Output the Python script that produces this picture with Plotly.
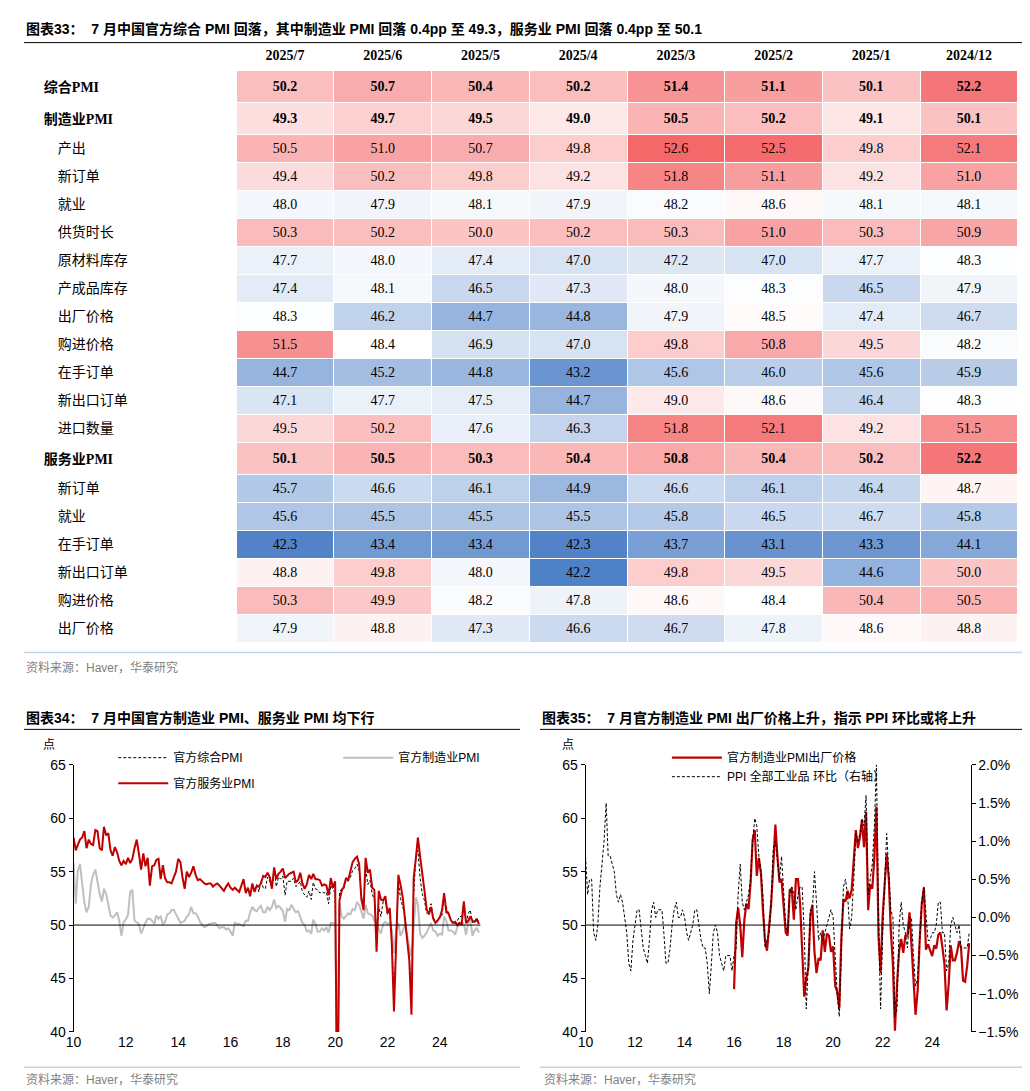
import pandas as pd
import plotly.graph_objects as go

W, H = 1030, 1091

# ---------- table data ----------
months = ['2025/7', '2025/6', '2025/5', '2025/4', '2025/3', '2025/2', '2025/1', '2024/12']
row_labels = ['综合PMI', '制造业PMI', '产出', '新订单', '就业', '供货时长', '原材料库存', '产成品库存',
              '出厂价格', '购进价格', '在手订单', '新出口订单', '进口数量', '服务业PMI',
              '新订单', '就业', '在手订单', '新出口订单', '购进价格', '出厂价格']
bold_rows = [0, 1, 13]
table_vals = [
    [50.2, 50.7, 50.4, 50.2, 51.4, 51.1, 50.1, 52.2],
    [49.3, 49.7, 49.5, 49.0, 50.5, 50.2, 49.1, 50.1],
    [50.5, 51.0, 50.7, 49.8, 52.6, 52.5, 49.8, 52.1],
    [49.4, 50.2, 49.8, 49.2, 51.8, 51.1, 49.2, 51.0],
    [48.0, 47.9, 48.1, 47.9, 48.2, 48.6, 48.1, 48.1],
    [50.3, 50.2, 50.0, 50.2, 50.3, 51.0, 50.3, 50.9],
    [47.7, 48.0, 47.4, 47.0, 47.2, 47.0, 47.7, 48.3],
    [47.4, 48.1, 46.5, 47.3, 48.0, 48.3, 46.5, 47.9],
    [48.3, 46.2, 44.7, 44.8, 47.9, 48.5, 47.4, 46.7],
    [51.5, 48.4, 46.9, 47.0, 49.8, 50.8, 49.5, 48.2],
    [44.7, 45.2, 44.8, 43.2, 45.6, 46.0, 45.6, 45.9],
    [47.1, 47.7, 47.5, 44.7, 49.0, 48.6, 46.4, 48.3],
    [49.5, 50.2, 47.6, 46.3, 51.8, 52.1, 49.2, 51.5],
    [50.1, 50.5, 50.3, 50.4, 50.8, 50.4, 50.2, 52.2],
    [45.7, 46.6, 46.1, 44.9, 46.6, 46.1, 46.4, 48.7],
    [45.6, 45.5, 45.5, 45.5, 45.8, 46.5, 46.7, 45.8],
    [42.3, 43.4, 43.4, 42.3, 43.7, 43.1, 43.3, 44.1],
    [48.8, 49.8, 48.0, 42.2, 49.8, 49.5, 44.6, 50.0],
    [50.3, 49.9, 48.2, 47.8, 48.6, 48.4, 50.4, 50.5],
    [47.9, 48.8, 47.3, 46.6, 46.7, 47.8, 48.6, 48.8],
]

# ---------- monthly series (2010/01 - 2025/07) ----------
mfg_pmi = [
    55.8, 52.0, 55.1, 55.7, 53.9, 52.1, 51.2, 51.7, 53.8, 54.7, 55.2, 53.9,
    52.9, 52.2, 53.4, 52.9, 52.0, 50.9, 50.7, 50.9, 51.2, 50.4, 49.0, 50.3,
    50.5, 51.0, 53.1, 53.3, 50.4, 50.2, 50.1, 49.2, 49.8, 50.2, 50.6, 50.6,
    50.4, 50.1, 50.9, 50.6, 50.8, 50.1, 50.3, 51.0, 51.1, 51.4, 51.4, 51.0,
    50.5, 50.2, 50.3, 50.4, 50.8, 51.0, 51.7, 51.1, 51.1, 50.8, 50.3, 50.1,
    49.8, 49.9, 50.1, 50.1, 50.2, 50.2, 50.0, 49.7, 49.8, 49.8, 49.6, 49.7,
    49.4, 49.0, 50.2, 50.1, 50.1, 50.0, 49.9, 50.4, 50.4, 51.2, 51.7, 51.4,
    51.3, 51.6, 51.8, 51.2, 51.2, 51.7, 51.4, 51.7, 52.4, 51.6, 51.8, 51.6,
    51.3, 50.3, 51.5, 51.4, 51.9, 51.5, 51.2, 51.3, 50.8, 50.2, 50.0, 49.4,
    49.5, 49.2, 50.5, 50.1, 49.4, 49.4, 49.7, 49.5, 49.8, 49.3, 50.2, 50.2,
    50.0, 35.7, 52.0, 50.8, 50.6, 50.9, 51.1, 51.0, 51.5, 51.4, 52.1, 51.9,
    51.3, 50.6, 51.9, 51.1, 51.0, 50.9, 50.4, 50.1, 49.6, 49.2, 50.1, 50.3,
    50.1, 50.2, 49.5, 47.4, 49.6, 50.2, 49.0, 49.4, 50.1, 49.2, 48.0, 47.0,
    50.1, 52.6, 51.9, 49.2, 48.8, 49.0, 49.3, 49.7, 50.2, 49.5, 49.4, 49.0,
    49.2, 49.1, 50.8, 50.4, 49.5, 49.5, 49.4, 49.1, 49.8, 50.1, 50.3, 50.1,
    49.1, 50.2, 50.5, 49.0, 49.5, 49.7, 49.3,
]
svc_pmi = [
    58.2, 57.0, 57.5, 58.0, 58.2, 58.8, 57.2, 58.0, 57.6, 57.5, 58.9, 58.8,
    57.2, 57.0, 59.2, 58.4, 58.6, 57.0, 56.5, 57.3, 56.8, 56.0, 55.6, 56.0,
    55.7, 56.3, 55.8, 56.2, 57.2, 58.0, 56.7, 55.2, 56.7, 55.5, 56.3, 53.7,
    55.5, 55.6, 56.1, 56.2, 54.3, 55.6, 54.4, 54.0, 54.0, 53.9, 54.5, 55.0,
    56.2, 55.9, 54.5, 53.4, 55.0, 54.5, 54.9, 55.5, 54.7, 54.2, 54.3, 54.1,
    53.9, 53.8, 53.9, 53.9, 53.6, 53.8, 53.9, 53.7, 53.4, 53.2, 53.6, 53.9,
    53.5, 53.3, 53.5, 53.3, 53.1, 53.7, 54.3, 53.0, 53.5, 52.7, 53.9, 53.1,
    53.7, 53.6, 53.9, 54.6, 54.5, 54.9, 54.5, 53.4, 55.4, 54.3, 54.8, 55.0,
    55.3, 54.4, 54.6, 54.8, 54.9, 55.0, 54.0, 54.2, 54.9, 53.9, 53.4, 53.8,
    54.7, 54.3, 54.8, 54.3, 54.3, 54.2, 53.7, 53.8, 53.7, 52.8, 54.4, 53.5,
    54.1, 29.6, 52.3, 53.2, 53.6, 54.4, 54.2, 55.2, 55.9, 56.2, 56.4, 55.7,
    52.4, 51.4, 56.3, 54.9, 55.2, 53.5, 53.3, 47.5, 53.2, 52.4, 52.3, 52.7,
    51.1, 51.6, 48.4, 41.9, 47.8, 54.7, 53.8, 52.6, 50.6, 48.7, 46.7, 41.6,
    54.4, 56.3, 58.2, 56.4, 54.5, 53.2, 51.5, 51.0, 51.7, 50.6, 50.2, 50.4,
    50.7, 51.4, 53.0, 51.2, 51.1, 50.5, 50.2, 50.3, 50.0, 50.2, 50.0, 52.2,
    50.2, 50.4, 50.8, 50.4, 50.3, 50.5, 50.1,
]
comp_pmi = [None] * 84 + [
    53.8, 53.1, 54.2, 53.5, 53.4, 54.5, 54.1, 53.5, 55.2, 53.6, 54.5, 54.3,
    54.6, 52.8, 54.1, 54.1, 54.1, 54.4, 53.6, 53.8, 54.1, 53.1, 52.8, 52.6,
    53.2, 52.4, 54.0, 53.4, 53.3, 53.0, 53.1, 53.0, 53.1, 52.0, 53.7, 53.4,
    53.0, 28.9, 53.0, 53.4, 53.4, 54.2, 54.1, 54.5, 55.1, 55.3, 55.7, 55.1,
    52.8, 51.6, 55.3, 53.8, 54.2, 52.9, 52.4, 48.9, 51.7, 50.8, 52.2, 52.2,
    51.0, 51.2, 48.8, 42.7, 48.4, 54.1, 52.5, 51.7, 50.9, 49.0, 47.1, 42.6,
    52.9, 56.4, 57.0, 54.4, 52.9, 52.3, 51.1, 51.3, 52.0, 50.7, 50.4, 50.3,
    50.9, 50.9, 52.7, 51.7, 51.0, 50.5, 50.2, 50.1, 50.4, 50.8, 50.8, 52.2,
    50.1, 51.1, 51.4, 50.2, 50.4, 50.7, 50.2,
]
out_price = [None] * 72 + [
    44.0, 50.2, 51.6, 50.0, 47.0, 50.5, 52.0, 51.5, 54.0, 58.0, 58.9, 54.6,
    56.3, 54.8, 51.5, 48.6, 47.6, 49.5, 52.0, 55.5, 59.4, 56.5, 54.0, 54.3,
    51.5, 49.3, 49.0, 53.3, 53.4, 50.5, 54.3, 54.3, 52.0, 48.0, 43.3, 45.0,
    46.0, 51.0, 51.9, 47.5, 45.5, 46.9, 46.7, 49.5, 47.5, 49.2, 49.0, 47.5,
    48.0, 44.3, 43.8, 42.2, 48.7, 52.4, 52.2, 53.2, 52.5, 53.3, 56.5, 58.9,
    57.2, 58.3, 59.8, 57.3, 60.6, 51.4, 53.8, 53.4, 56.4, 61.1, 48.9, 45.5,
    50.9, 54.1, 56.7, 54.4, 49.5, 46.3, 40.1, 44.5, 47.6, 48.7, 47.4, 49.0,
    49.0, 51.2, 48.6, 44.9, 41.6, 43.9, 48.6, 52.0, 53.5, 47.7, 48.2, 47.7,
    47.1, 48.1, 47.8, 49.1, 49.3, 47.9, 46.3, 42.0, 44.5, 48.1, 46.7, 46.7,
    47.4, 48.5, 47.9, 44.8, 44.7, 46.2, 48.3,
]
ppi_mom = [
    0.8, 0.3, 0.5, 0.5, -0.2, -0.3, -0.1, 0.4, 0.7, 1.0, 1.5, 0.8,
    0.8, 0.7, 0.6, 0.3, 0.2, 0.3, 0.2, 0.0, -0.2, -0.6, -0.7, -0.3,
    -0.1, 0.1, 0.1, -0.2, -0.4, -0.5, -0.6, -0.3, 0.1, 0.2, 0.0, 0.1,
    0.1, 0.1, -0.2, -0.6, -0.6, -0.4, -0.1, 0.1, 0.2, 0.0, 0.0, 0.1,
    0.0, -0.2, -0.3, -0.2, -0.1, 0.1, 0.1, -0.1, -0.3, -0.4, -0.4, -0.6,
    -1.0, -0.6, -0.2, -0.1, -0.2, -0.5, -0.6, -0.7, -0.5, -0.5, -0.5, -0.7,
    -0.5, -0.4, 0.3, 0.7, 0.2, 0.1, 0.2, 0.3, 0.5, 1.0, 1.3, 1.2,
    0.8, 0.6, 0.3, -0.4, -0.3, -0.2, 0.2, 0.9, 1.0, 0.7, 0.5, 0.8,
    0.3, -0.1, -0.2, 0.3, 0.4, 0.3, 0.1, 0.3, 0.4, 0.4, -0.2, -1.2,
    -0.6, 0.1, 0.1, 0.6, 0.2, -0.3, -0.2, -0.3, -0.2, -0.1, 0.0, 0.1,
    0.0, -0.5, -1.0, -1.3, -0.4, 0.4, 0.5, 0.3, -0.15, 0.0, 0.5, 1.1,
    1.0, 1.1, 1.3, 1.2, 1.6, 0.3, 0.5, 0.7, 1.2, 2.0, 0.0, -1.2,
    -0.2, 0.5, 1.1, 0.6, 0.1, 0.0, -1.3, -1.2, -0.1, 0.2, -0.1, -0.2,
    -0.4, 0.0, 0.0, -0.5, -0.9, -0.8, -0.2, 0.2, 0.4, 0.0, -0.3, -0.3,
    -0.2, -0.2, -0.1, 0.2, 0.2, -0.2, -0.2, -0.7, -0.6, -0.1, 0.0, -0.1,
    -0.2, -0.1, -0.4, -0.4, -0.4, -0.4, -0.2,
]
dates = pd.date_range('2010-01-01', periods=len(svc_pmi), freq='MS')

RED = '#C00000'
GRAY = '#BFBFBF'
SERIF = 'Liberation Serif, Noto Sans CJK SC'
SANS = 'Liberation Sans, Noto Sans CJK SC'


def cell_color(v, mid=48.4, lo=42.2, hi=52.6):
    if v >= mid:
        t = min((v - mid) / (hi - mid), 1)
        c1 = (244, 104, 106)
    else:
        t = min((mid - v) / (mid - lo), 1)
        c1 = (79, 129, 199)
    r, g, b = (round(255 + (c - 255) * t) for c in c1)
    return f'rgb({r},{g},{b})'


fig = go.Figure()

# ---------- table ----------
lab_col = []
for i, lab in enumerate(row_labels):
    lab_col.append(f'<b>{lab}</b>' if i in bold_rows else '\u3000' + lab)
val_cols, fill_cols = [], []
for j in range(len(months)):
    col, fc = [], []
    for i in range(len(row_labels)):
        v = table_vals[i][j]
        col.append(f'<b>{v:.1f}</b>' if i in bold_rows else f'{v:.1f}')
        fc.append(cell_color(v))
    val_cols.append(col)
    fill_cols.append(fc)

fig.add_trace(go.Table(
    domain=dict(x=[20 / W, 1010 / W], y=[1 - 660 / H, 1 - 24 / H]),
    columnwidth=[202] + [98.5] * 8,
    header=dict(values=[''] + [f'<b>{m}</b>' for m in months], height=30,
                fill_color='white', line=dict(color='white', width=1),
                align='center', font=dict(family=SERIF, size=14, color='black')),
    cells=dict(values=[lab_col] + val_cols, height=28,
               fill_color=[['white'] * len(row_labels)] + fill_cols,
               line=dict(color='white', width=1),
               align=['left'] + ['center'] * 8,
               font=dict(family=SERIF, size=14, color='black')),
))

# ---------- left chart ----------
fig.add_trace(go.Scatter(x=dates, y=comp_pmi, name='官方综合PMI', mode='lines',
                         line=dict(color='black', width=1, dash='3px,2px'), legend='legend'))
fig.add_trace(go.Scatter(x=dates, y=mfg_pmi, name='官方制造业PMI', mode='lines',
                         line=dict(color=GRAY, width=2), legend='legend'))
fig.add_trace(go.Scatter(x=dates, y=svc_pmi, name='官方服务业PMI', mode='lines',
                         line=dict(color=RED, width=2), legend='legend3'))

# ---------- right chart ----------
fig.add_trace(go.Scatter(x=dates, y=out_price, name='官方制造业PMI出厂价格', mode='lines',
                         line=dict(color=RED, width=2.2), xaxis='x2', yaxis='y2', legend='legend2'))
fig.add_trace(go.Scatter(x=dates, y=ppi_mom, name='PPI 全部工业品 环比（右轴）', mode='lines',
                         line=dict(color='black', width=1, dash='3px,2px'), xaxis='x2', yaxis='y3',
                         legend='legend2'))

ydom = [1 - 1031 / H, 1 - 760 / H]
xr = ['2010-01-01', '2025-07-20']
xcommon = dict(type='date', range=xr, tickformat='%y', dtick='M24', tick0='2010-01-01',
               showgrid=False, zeroline=False, showline=False, ticks='',
               tickfont=dict(family=SANS, size=14, color='black'))
ycommon = dict(range=[40, 65], dtick=5, showgrid=False, zeroline=False, showline=True,
               linecolor='black', linewidth=1, ticks='outside', ticklen=4, tickcolor='black',
               tickfont=dict(family=SANS, size=14, color='black'))

legend_font = dict(family=SANS, size=12, color='black')
fig.update_layout(
    width=W, height=H, margin=dict(l=0, r=0, t=0, b=0),
    paper_bgcolor='white', plot_bgcolor='white',
    xaxis=dict(domain=[58 / W, 468 / W], anchor='y', **xcommon),
    yaxis=dict(domain=ydom, anchor='x', **ycommon),
    xaxis2=dict(domain=[574 / W, 962 / W], anchor='y2', **xcommon),
    yaxis2=dict(domain=ydom, anchor='x2', **ycommon),
    yaxis3=dict(overlaying='y2', side='right', anchor='x2', range=[-1.5, 2.0], dtick=0.5,
                tickformat='.1f', ticksuffix='%', showgrid=False, zeroline=False, showline=True,
                linecolor='black', ticks='outside', ticklen=4, tickcolor='black',
                tickfont=dict(family=SANS, size=14, color='black')),
    legend=dict(x=98 / W, y=1 - 738 / H, xanchor='left', yanchor='top', orientation='h',
                entrywidth=160, entrywidthmode='pixels', font=legend_font,
                bgcolor='rgba(0,0,0,0)', itemwidth=50),
    legend3=dict(x=98 / W, y=1 - 764 / H, xanchor='left', yanchor='top', orientation='h',
                 font=legend_font, bgcolor='rgba(0,0,0,0)', itemwidth=50),
    legend2=dict(x=656 / W, y=1 - 738 / H, xanchor='left', yanchor='top', orientation='v',
                 font=legend_font, bgcolor='rgba(0,0,0,0)', itemwidth=50, tracegroupgap=6),
    showlegend=True,
)

# 50 reference lines
fig.add_shape(type='line', xref='x domain', yref='y', x0=0, x1=1, y0=50, y1=50,
              line=dict(color='black', width=1))
fig.add_shape(type='line', xref='x2 domain', yref='y2', x0=0, x1=1, y0=50, y1=50,
              line=dict(color='black', width=1))

# frame lines
fig.add_shape(type='line', xref='paper', yref='paper', x0=8 / W, x1=1022 / W,
              y0=1 - 646 / H, y1=1 - 646 / H, line=dict(color='#C5D5E8', width=1.5))
fig.add_shape(type='line', xref='paper', yref='paper', x0=8 / W, x1=1022 / W,
              y0=1 - 27 / H, y1=1 - 27 / H, line=dict(color='black', width=1))
for x0, x1 in [(8, 508), (528, 1022)]:
    fig.add_shape(type='line', xref='paper', yref='paper', x0=x0 / W, x1=x1 / W,
                  y0=1 - 724 / H, y1=1 - 724 / H, line=dict(color='black', width=1))
    fig.add_shape(type='line', xref='paper', yref='paper', x0=x0 / W, x1=x1 / W,
                  y0=1 - 1067 / H, y1=1 - 1067 / H, line=dict(color='#C5D5E8', width=1.5))

title_font = dict(family=SANS, size=14, color='black')
src_font = dict(family=SANS, size=12, color='#7F7F7F')
texts = [
    (8, 13, '<b>图表33：  7 月中国官方综合 PMI 回落，其中制造业 PMI 回落 0.4pp 至 49.3，服务业 PMI 回落 0.4pp 至 50.1</b>', title_font),
    (8, 661, '资料来源：Haver，华泰研究', src_font),
    (8, 712, '<b>图表34：  7 月中国官方制造业 PMI、服务业 PMI 均下行</b>', title_font),
    (528, 712, '<b>图表35：  7 月官方制造业 PMI 出厂价格上升，指示 PPI 环比或将上升</b>', title_font),
    (8, 1079, '资料来源：Haver，华泰研究', src_font),
    (530, 1079, '资料来源：Haver，华泰研究', src_font),
    (25, 740, '点', dict(family=SANS, size=12, color='black')),
    (548, 740, '点', dict(family=SANS, size=12, color='black')),
]
for x, y, t, f in texts:
    fig.add_annotation(xref='paper', yref='paper', x=x / W, y=1 - y / H, text=t,
                       showarrow=False, xanchor='left', yanchor='middle', font=f)

fig.write_html("out.html")
